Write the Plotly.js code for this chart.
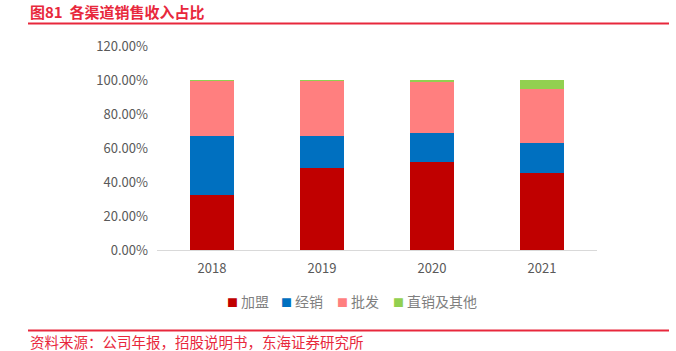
<!DOCTYPE html>
<html><head><meta charset="utf-8">
<script src="https://cdn.plot.ly/plotly-3.0.1.min.js"></script>
<style>html,body{margin:0;padding:0;background:#fff}#chart{width:676px;height:351px}</style>
</head><body><div id="chart"></div>
<script>
const years = ['2018', '2019', '2020', '2021'];
const franchise = [32.2, 48.0, 51.6, 45.5];   // 加盟
const distribution = [35.0, 19.3, 17.0, 17.5]; // 经销
const wholesale = [32.5, 32.4, 30.0, 31.9];   // 批发
const directOther = [0.3, 0.3, 1.4, 5.1];    // 直销及其他
const seriesNames = ['加盟', '经销', '批发', '直销及其他'];
const colors = ['#C00000', '#0070C0', '#FF7F7F', '#92D050'];
const tickVals = [0, 0.2, 0.4, 0.6, 0.8, 1.0, 1.2];

const allSeries = [franchise, distribution, wholesale, directOther];
const traces = allSeries.map((vals, i) => ({
  type: 'bar', x: years, y: vals.map(v => v / 100), name: seriesNames[i],
  marker: {color: colors[i], line: {width: 0}}, hoverinfo: 'skip', showlegend: false
}));

const L = 157, R = 597, T = 46, B = 250;
const px = x => (x - L) / (R - L);
const py = y => (B - y) / (B - T);
const red = '#E8283C';
const cjk = '"Noto Sans CJK SC", "Noto Sans", sans-serif';

// legend built as annotations (square glyph + label)
const legendSquareX = [232.3, 286.3, 342.3, 398.3];
const legendAnn = [];
seriesNames.forEach((name, i) => {
  legendAnn.push({xref: 'paper', yref: 'paper', x: px(legendSquareX[i]), y: py(301.5), xanchor: 'center', yanchor: 'middle',
    showarrow: false, text: '■', font: {family: cjk, size: 11, color: colors[i]}});
  legendAnn.push({xref: 'paper', yref: 'paper', x: px(legendSquareX[i] + 6.5), y: py(301), xanchor: 'left', yanchor: 'middle',
    showarrow: false, text: name, font: {family: cjk, size: 14, color: '#7F7F7F'}});
});

const layout = {
  width: 676, height: 351,
  margin: {l: L, r: 676 - R, t: T, b: 351 - B, pad: 0},
  paper_bgcolor: '#fff', plot_bgcolor: '#fff',
  barmode: 'stack', bargap: 0.6,
  font: {family: cjk, color: '#595959', size: 13},
  xaxis: {type: 'category', showline: true, linecolor: '#D9D9D9', linewidth: 1,
    ticks: '', showgrid: false, zeroline: false, tickfont: {size: 13, color: '#595959'}, ticklabelstandoff: 6},
  yaxis: {range: [0, 1.2], tickvals: tickVals, tickformat: '.2%', showgrid: false, zeroline: false,
    showline: false, ticks: '', tickfont: {size: 13, color: '#595959'}, ticklabelstandoff: 8},
  showlegend: false,
  shapes: [
    {type: 'line', xref: 'paper', yref: 'paper', x0: px(28), x1: px(669), y0: py(23.5), y1: py(23.5), line: {color: red, width: 2}},
    {type: 'line', xref: 'paper', yref: 'paper', x0: px(28), x1: px(669), y0: py(330.5), y1: py(330.5), line: {color: red, width: 2}}
  ],
  annotations: [
    {xref: 'paper', yref: 'paper', x: px(28), y: py(12), xanchor: 'left', yanchor: 'middle', showarrow: false,
      text: '<b>图81  各渠道销售收入占比</b>', font: {family: cjk, size: 15, color: red}},
    {xref: 'paper', yref: 'paper', x: px(28), y: py(341), xanchor: 'left', yanchor: 'middle', showarrow: false,
      text: '资料来源：公司年报，招股说明书，东海证券研究所', font: {family: cjk, size: 14.5, color: red}}
  ].concat(legendAnn)
};
Plotly.newPlot('chart', traces, layout, {displayModeBar: false, staticPlot: true});
</script></body></html>
